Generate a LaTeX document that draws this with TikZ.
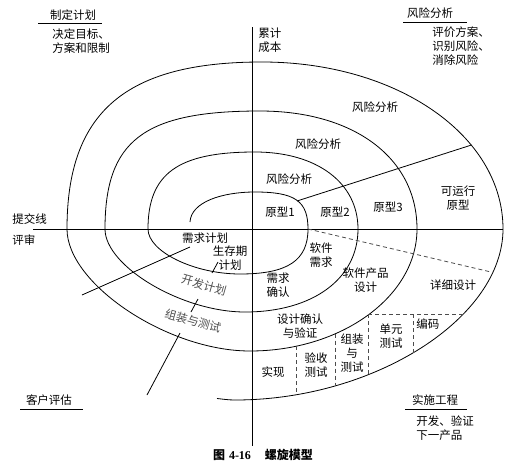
\documentclass[tikz,border=0pt]{standalone}
\usepackage{fontspec}
\setmainfont{Noto Sans CJK SC}
\newfontfamily\capnum{Liberation Serif}

\begin{document}
\begin{tikzpicture}[x=1pt, y=-1pt, line width=0.8pt,
    txt/.style={font=\fontsize{11.5}{14}\selectfont, align=center, inner sep=0pt},
    note/.style={txt, align=left, anchor=west},
    tilted/.style={txt, rotate=-16, text=black!70},
    divider/.style={black!70, dash pattern=on 4pt off 3pt}
    ]
    \useasboundingbox (0,0) rectangle (528,472);

    % axes
    \draw (33,229) -- (503,229);
    \draw (252,27) -- (252,446);

    % spiral, half turn by half turn
    \draw (190,222) .. controls (191,202) and (222,192) .. (255,192) .. controls (295,192) and (308,201) .. (308,229);
    \foreach \xl/\xa/\xr/\ya/\kl/\kr in {148/240/308/274/0.5/0.7, 148/255/358/152/0.72/0.6,
        105/245/358/312/0.45/0.6, 105/260/417/111/0.75/0.6,
        67/250/417/351/0.45/0.55, 67/262/503/62/0.7/0.56} {
      \draw (\xl,229) .. controls (\xl,{229-\kl*(229-\ya)}) and ({\xa-\kl*(\xa-\xl)},\ya) .. (\xa,\ya)
        .. controls ({\xa+\kr*(\xr-\xa)},\ya) and (\xr,{229-\kr*(229-\ya)}) .. (\xr,229);
    };
    \draw (503,229) .. controls (503,317.9) and (374.4,400) .. (235,400) .. controls (228,400) and (222,399) .. (217,398.5);

    % radial lines
    \draw (82,295) -- (190,247);
    \draw (297,201) -- (471.5,145);
    \draw (147,395) -- (180,333) (191,312) -- (198,299) (212,273) -- (218,262);

    % dashed dividers
    \draw[divider] (308,229) -- (491,272);
    \draw[divider] (368,314) -- (463,314);
    \foreach \x/\ya/\yb in {296/346/394.6, 335/333.5/386, 368/314/374.4, 413/314/353.5} {
      \draw[divider] (\x,\ya) -- (\x,\yb);
    };

    % quadrant titles
    \node[txt] (plan) at (73,15) {制定计划};
    \draw (38,23) -- (102,23);
    \node[note] (planNote) at (52,41) {决定目标、\\方案和限制};
    \node[txt] (risk) at (430,13) {风险分析};
    \draw (403,22) -- (467,22);
    \node[note] (riskNote) at (432,46.5) {评价方案、\\识别风险、\\消除风险};
    \node[note] (cost) at (258,40.5) {累计\\成本};
    \node[note] (submit) at (12,219) {提交线};
    \node[note] (review) at (12,240) {评审};
    \node[txt] (customer) at (49,400) {客户评估};
    \draw (20,409) -- (83,409);
    \node[txt] (build) at (435,400) {实施工程};
    \draw (405,409) -- (467,409);
    \node[note] (buildNote) at (416,428.5) {开发、验证\\下一产品};

    % inside the spiral
    \node[txt] (riskA) at (289,179) {风险分析};
    \node[txt] (riskB) at (318,144) {风险分析};
    \node[txt] (riskC) at (375,107) {风险分析};
    \node[txt] (protoA) at (280,212) {原型1};
    \node[txt] (protoB) at (335,212) {原型2};
    \node[txt] (protoC) at (388,207) {原型3};
    \node[txt] (protoRun) at (458,198.5) {可运行\\原型};
    \node[txt] (reqPlan) at (205,238) {需求计划};
    \node[txt] (lifePlan) at (230,258) {生存期\\计划};
    \node[txt] (swReq) at (321,255.5) {软件\\需求};
    \node[txt] (reqCheck) at (278,285) {需求\\确认};
    \node[txt] (prodDesign) at (365.5,280.5) {软件产品\\设计};
    \node[txt] (detailDesign) at (453,285) {详细设计};
    \node[txt] (designCheck) at (300,326.5) {设计确认\\与验证};
    \node[txt] (unitTest) at (391,336.5) {单元\\测试};
    \node[note] (coding) at (416,324) {编码};
    \node[txt] (assemble) at (352,353.5) {组装\\与\\测试};
    \node[txt] (accept) at (316,365) {验收\\测试};
    \node[txt] (implement) at (273,372) {实现};
    \node[tilted] (devPlan) at (204,285) {开发计划};
    \node[tilted] (assembleTest) at (193,321) {组装与测试};

    \node[font=\fontsize{12}{14}\selectfont\bfseries, inner sep=0pt] (caption) at (263,455)
      {图\hspace{4pt}{\capnum 4-16}\hspace{14pt}螺旋模型};
\end{tikzpicture}
\end{document}
